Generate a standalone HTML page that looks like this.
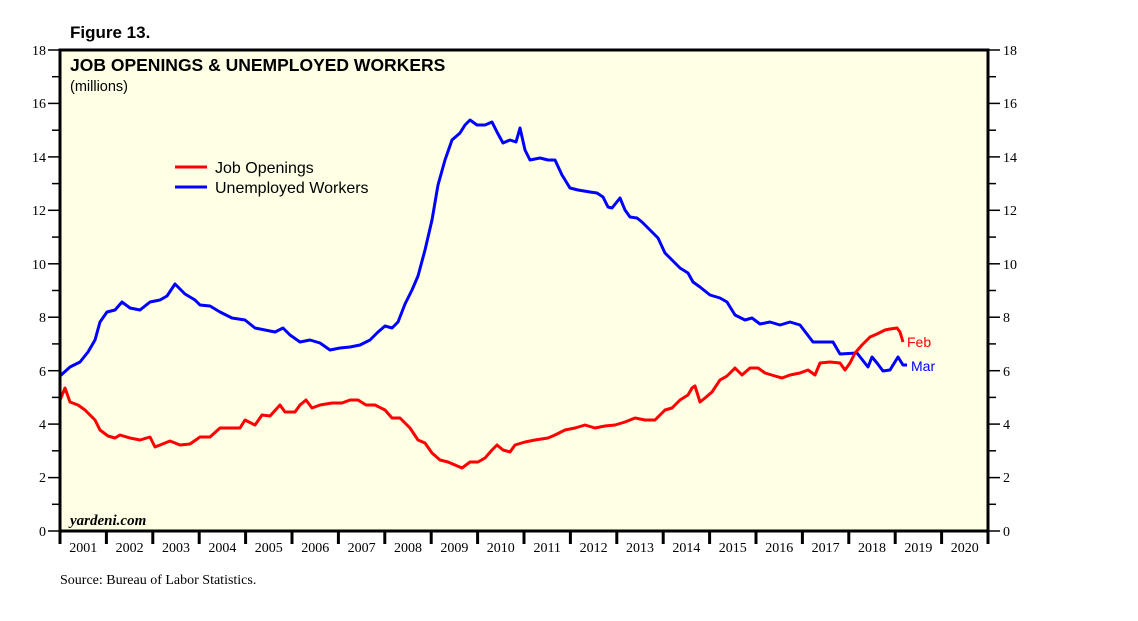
<!DOCTYPE html>
<html><head><meta charset="utf-8"><style>
body{margin:0;background:#fff;}
svg{display:block;}
.s{font-family:"Liberation Serif",serif;font-size:14px;fill:#000;}
.a{font-family:"Liberation Sans",sans-serif;}
</style></head><body>
<svg width="1138" height="621" viewBox="0 0 1138 621">
<rect x="60" y="50" width="928" height="481" fill="#ffffe6"/>
<text x="70" y="38" class="a" font-size="17" font-weight="bold">Figure 13.</text>
<text x="70" y="71" class="a" font-size="17.5" font-weight="bold">JOB OPENINGS &amp; UNEMPLOYED WORKERS</text>
<text x="70" y="91" class="a" font-size="14.5">(millions)</text>
<line x1="175" y1="167" x2="207" y2="167" stroke="#f00" stroke-width="3"/>
<text x="215" y="173" class="a" font-size="16">Job Openings</text>
<line x1="175" y1="187" x2="207" y2="187" stroke="#00f" stroke-width="3"/>
<text x="215" y="193" class="a" font-size="16">Unemployed Workers</text>
<polyline fill="none" stroke="#00f" stroke-width="3" stroke-linejoin="round" points="60,376 70,367 80,362 88,352 95,340 100,322 107,312 115,310 122,302 130,308 140,310 150,302 160,300 167,296 175,284 185,294 195,300 200,305 210,306 220,312 232,318 245,320 255,328 265,330 275,332 283,328 290,335 300,342 310,340 320,343 330,350 340,348 350,347 360,345 370,340 378,332 385,326 392,328 398,322 405,304 412,290 418,276 425,250 432,220 438,185 445,160 452,140 460,133 465,125 470,120 477,125 485,125 492,122 497,132 503,143 510,140 516,142 520,128 525,150 530,160 540,158 548,160 555,160 562,175 570,188 578,190 590,192 597,193 603,197 608,207 612,208 620,198 625,210 630,217 637,218 642,222 650,230 658,238 665,253 672,260 680,268 688,273 693,282 700,287 710,295 720,298 727,302 735,315 745,320 752,318 760,324 770,322 780,325 790,322 800,325 813,342 833,342 840,354 857,353 868,367 872,357 877,363 883,371 890,370 898,357 903,365 907,365"/>
<polyline fill="none" stroke="#f00" stroke-width="3" stroke-linejoin="round" points="60,400 65,388 70,402 78,405 85,410 90,415 95,420 100,430 108,436 115,438 120,435 130,438 140,440 150,437 155,447 160,445 170,441 180,445 190,444 200,437 210,437 220,428 230,428 240,428 245,420 255,425 262,415 270,416 280,405 285,412 295,412 300,405 306,400 312,408 320,405 332,403 342,403 350,400 358,400 366,405 375,405 385,410 392,418 400,418 410,428 418,440 425,443 432,453 440,460 448,462 455,465 462,468 470,462 478,462 485,458 492,450 497,445 503,450 510,452 515,445 525,442 535,440 548,438 555,435 565,430 575,428 585,425 595,428 605,426 615,425 625,422 635,418 645,420 655,420 665,410 672,408 680,400 688,395 692,388 695,386 700,402 705,398 712,392 720,380 727,376 735,368 742,375 750,368 758,368 765,373 775,376 782,378 790,375 800,373 808,370 815,375 820,363 830,362 840,363 845,370 850,363 855,353 862,345 870,337 877,334 885,330 890,329 897,328 900,332 903,342"/>
<text x="907" y="347" class="a" font-size="14" fill="#f00">Feb</text>
<text x="911" y="371" class="a" font-size="14" fill="#00f">Mar</text>
<text x="70" y="525" font-family="Liberation Serif,serif" font-style="italic" font-weight="bold" font-size="15">yardeni.com</text>
<rect x="60" y="50" width="928" height="481" fill="none" stroke="#000" stroke-width="3"/>
<g stroke="#000" stroke-width="1.5">
<line x1="48" y1="50" x2="60" y2="50"/><line x1="52" y1="76.7" x2="60" y2="76.7"/>
<line x1="48" y1="103.4" x2="60" y2="103.4"/><line x1="52" y1="130.2" x2="60" y2="130.2"/>
<line x1="48" y1="156.9" x2="60" y2="156.9"/><line x1="52" y1="183.6" x2="60" y2="183.6"/>
<line x1="48" y1="210.3" x2="60" y2="210.3"/><line x1="52" y1="237.1" x2="60" y2="237.1"/>
<line x1="48" y1="263.8" x2="60" y2="263.8"/><line x1="52" y1="290.5" x2="60" y2="290.5"/>
<line x1="48" y1="317.2" x2="60" y2="317.2"/><line x1="52" y1="343.9" x2="60" y2="343.9"/>
<line x1="48" y1="370.7" x2="60" y2="370.7"/><line x1="52" y1="397.4" x2="60" y2="397.4"/>
<line x1="48" y1="424.1" x2="60" y2="424.1"/><line x1="52" y1="450.8" x2="60" y2="450.8"/>
<line x1="48" y1="477.6" x2="60" y2="477.6"/><line x1="52" y1="504.3" x2="60" y2="504.3"/>
<line x1="48" y1="531" x2="60" y2="531"/>
<line x1="988" y1="50" x2="1000" y2="50"/><line x1="988" y1="76.7" x2="996" y2="76.7"/>
<line x1="988" y1="103.4" x2="1000" y2="103.4"/><line x1="988" y1="130.2" x2="996" y2="130.2"/>
<line x1="988" y1="156.9" x2="1000" y2="156.9"/><line x1="988" y1="183.6" x2="996" y2="183.6"/>
<line x1="988" y1="210.3" x2="1000" y2="210.3"/><line x1="988" y1="237.1" x2="996" y2="237.1"/>
<line x1="988" y1="263.8" x2="1000" y2="263.8"/><line x1="988" y1="290.5" x2="996" y2="290.5"/>
<line x1="988" y1="317.2" x2="1000" y2="317.2"/><line x1="988" y1="343.9" x2="996" y2="343.9"/>
<line x1="988" y1="370.7" x2="1000" y2="370.7"/><line x1="988" y1="397.4" x2="996" y2="397.4"/>
<line x1="988" y1="424.1" x2="1000" y2="424.1"/><line x1="988" y1="450.8" x2="996" y2="450.8"/>
<line x1="988" y1="477.6" x2="1000" y2="477.6"/><line x1="988" y1="504.3" x2="996" y2="504.3"/>
<line x1="988" y1="531" x2="1000" y2="531"/>
</g>
<g stroke="#000" stroke-width="3">
<line x1="60" y1="531" x2="60" y2="544"/><line x1="106.4" y1="531" x2="106.4" y2="544"/><line x1="152.8" y1="531" x2="152.8" y2="544"/><line x1="199.2" y1="531" x2="199.2" y2="544"/><line x1="245.6" y1="531" x2="245.6" y2="544"/><line x1="292" y1="531" x2="292" y2="544"/><line x1="338.4" y1="531" x2="338.4" y2="544"/><line x1="384.8" y1="531" x2="384.8" y2="544"/><line x1="431.2" y1="531" x2="431.2" y2="544"/><line x1="477.6" y1="531" x2="477.6" y2="544"/><line x1="524" y1="531" x2="524" y2="544"/><line x1="570.4" y1="531" x2="570.4" y2="544"/><line x1="616.8" y1="531" x2="616.8" y2="544"/><line x1="663.2" y1="531" x2="663.2" y2="544"/><line x1="709.6" y1="531" x2="709.6" y2="544"/><line x1="756" y1="531" x2="756" y2="544"/><line x1="802.4" y1="531" x2="802.4" y2="544"/><line x1="848.8" y1="531" x2="848.8" y2="544"/><line x1="895.2" y1="531" x2="895.2" y2="544"/><line x1="941.6" y1="531" x2="941.6" y2="544"/><line x1="988" y1="531" x2="988" y2="544"/>
</g>
<g class="s" text-anchor="end">
<text x="46" y="55">18</text><text x="46" y="108">16</text><text x="46" y="162">14</text><text x="46" y="215">12</text><text x="46" y="269">10</text><text x="46" y="322">8</text><text x="46" y="376">6</text><text x="46" y="429">4</text><text x="46" y="482">2</text><text x="46" y="536">0</text>
</g>
<g class="s">
<text x="1003" y="55">18</text><text x="1003" y="108">16</text><text x="1003" y="162">14</text><text x="1003" y="215">12</text><text x="1003" y="269">10</text><text x="1003" y="322">8</text><text x="1003" y="376">6</text><text x="1003" y="429">4</text><text x="1003" y="482">2</text><text x="1003" y="536">0</text>
</g>
<g class="s" text-anchor="middle">
<text x="83.2" y="552">2001</text><text x="129.6" y="552">2002</text><text x="176" y="552">2003</text><text x="222.4" y="552">2004</text><text x="268.8" y="552">2005</text><text x="315.2" y="552">2006</text><text x="361.6" y="552">2007</text><text x="408" y="552">2008</text><text x="454.4" y="552">2009</text><text x="500.8" y="552">2010</text><text x="547.2" y="552">2011</text><text x="593.6" y="552">2012</text><text x="640" y="552">2013</text><text x="686.4" y="552">2014</text><text x="732.8" y="552">2015</text><text x="779.2" y="552">2016</text><text x="825.6" y="552">2017</text><text x="872" y="552">2018</text><text x="918.4" y="552">2019</text><text x="964.8" y="552">2020</text>
</g>
<text x="60" y="584" class="s">Source: Bureau of Labor Statistics.</text>
</svg>
</body></html>
